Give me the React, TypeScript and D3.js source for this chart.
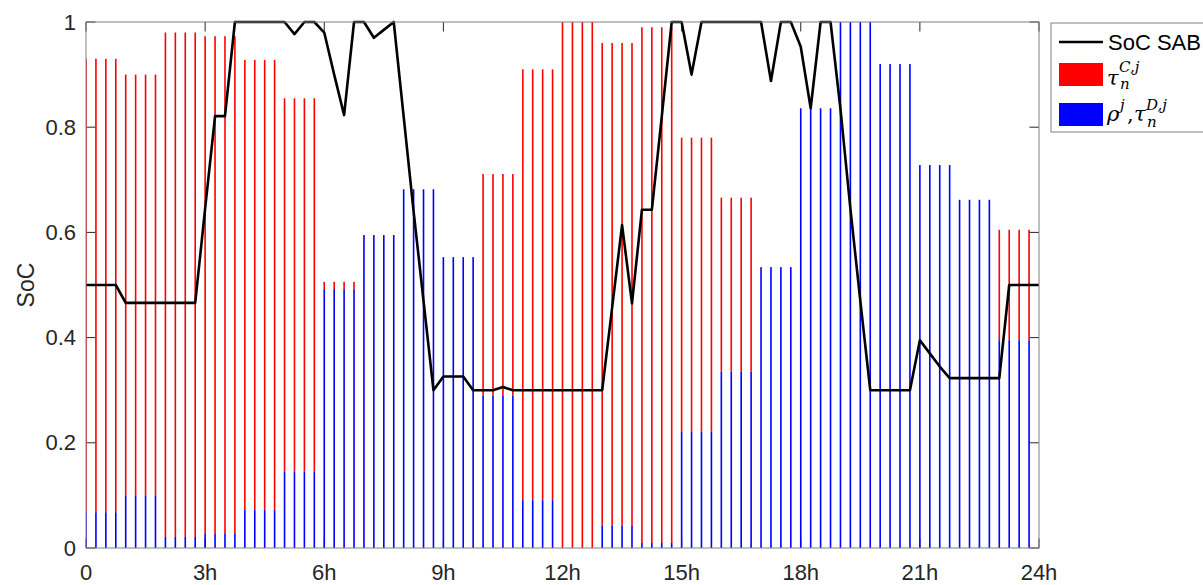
import React from 'react';
import * as d3 from 'd3';

// Axis ticks
const hourTicks = [0, 3, 6, 9, 12, 15, 18, 21, 24];
const hourTickLabels = ['0', '3h', '6h', '9h', '12h', '15h', '18h', '21h', '24h'];
const socTicks = [0, 0.2, 0.4, 0.6, 0.8, 1];
const socTickLabels = ['0', '0.2', '0.4', '0.6', '0.8', '1'];

// Hourly charge (tau^C) and discharge (rho, tau^D) levels; every hour holds four 15-min slots
const chargeTau = [
  0.93, 0.9, 0.98, 0.973, 0.928, 0.855, 0.506, 0.405, 0.318, 0.447, 0.711, 0.91,
  1.0, 0.96, 0.99, 0.78, 0.666, 0.466, 0.164, 0.0, 0.08, 0.272, 0.338, 0.605,
];
const dischargeRho = [
  0.068, 0.1, 0.021, 0.028, 0.072, 0.145, 0.492, 0.595, 0.682, 0.553, 0.29, 0.091,
  0.0, 0.042, 0.0095, 0.221, 0.335, 0.534, 0.836, 1.0, 0.92, 0.728, 0.662, 0.395,
];
const slotsPerHour = 4;

// State of charge of the SAB at every 15-min step from 0h to 24h
const socSAB = [
  0.5, 0.5, 0.5, 0.5, 0.466, 0.466, 0.466, 0.466, 0.466, 0.466, 0.466, 0.466,
  0.645, 0.821, 0.821, 1.0, 1.0, 1.0, 1.0, 1.0, 1.0, 0.977, 1.0, 1.0,
  0.98, 0.9, 0.823, 1.0, 1.0, 0.97, 0.985, 1.0, 0.82, 0.64, 0.47, 0.3,
  0.326, 0.326, 0.326, 0.3, 0.3, 0.3, 0.306, 0.3, 0.3, 0.3, 0.3, 0.3,
  0.3, 0.3, 0.3, 0.3, 0.3, 0.457, 0.614, 0.465, 0.643, 0.643, 0.82, 1.0,
  1.0, 0.9, 1.0, 1.0, 1.0, 1.0, 1.0, 1.0, 1.0, 0.888, 1.0, 1.0,
  0.953, 0.836, 1.0, 1.0, 0.835, 0.645, 0.47, 0.3, 0.3, 0.3, 0.3, 0.3,
  0.395, 0.37, 0.345, 0.323, 0.323, 0.323, 0.323, 0.323, 0.323, 0.5, 0.5, 0.5,
  0.5,
];

const W = 1203;
const H = 585;
const left = 86;
const right = 1039;
const top = 22;
const bottom = 548;
const tickLen = 9.5;
const font = '"Liberation Sans", Arial, Helvetica, sans-serif';
const mathFont = '"DejaVu Serif", "Liberation Serif", serif';

export default function App() {
  const x = d3.scaleLinear().domain([0, 24]).range([left, right]);
  const y = d3.scaleLinear().domain([0, 1]).range([bottom, top]);

  const slots = d3.range(24 * slotsPerHour).map((k) => {
    const hour = Math.floor(k / slotsPerHour);
    return { t: k / slotsPerHour, tau: chargeTau[hour], rho: dischargeRho[hour] };
  });

  const line = d3
    .line<number>()
    .x((_, i) => x(i / slotsPerHour))
    .y((d) => y(d));

  const barW = 1.6;

  return (
    <svg
      width={W}
      height={H}
      style={{ position: 'fixed', left: 0, top: 0, background: '#fff' }}
      fontFamily={font}
    >
      <defs>
        <clipPath id="plotArea">
          <rect x={left} y={top - 2} width={right - left} height={bottom - top + 2} />
        </clipPath>
      </defs>

      {/* ticks (drawn beneath the data) */}
      <g stroke="#262626" strokeWidth={1}>
        {socTicks.map((v) => (
          <g key={'yt' + v}>
            <line x1={left} x2={left + tickLen} y1={y(v)} y2={y(v)} />
            <line x1={right} x2={right - tickLen} y1={y(v)} y2={y(v)} />
          </g>
        ))}
        {hourTicks.map((v) => (
          <g key={'xt' + v}>
            <line x1={x(v)} x2={x(v)} y1={bottom} y2={bottom - tickLen} />
            <line x1={x(v)} x2={x(v)} y1={top} y2={top + tickLen} />
          </g>
        ))}
      </g>

      {/* discharge bars from zero, charge part visible above them */}
      <g clipPath="url(#plotArea)">
        {slots.map((s, i) =>
          s.tau > s.rho ? (
            <rect
              key={'c' + i}
              x={x(s.t) - barW / 2}
              width={barW}
              y={y(s.tau)}
              height={y(s.rho) - y(s.tau)}
              fill="#ff0000"
            />
          ) : null
        )}
        {slots.map((s, i) =>
          s.rho > 0 ? (
            <rect
              key={'d' + i}
              x={x(s.t) - barW / 2}
              width={barW}
              y={y(s.rho)}
              height={y(0) - y(s.rho)}
              fill="#0000ff"
            />
          ) : null
        )}
      </g>

      {/* SoC line */}
      <path
        d={line(socSAB) || ''}
        fill="none"
        stroke="#000"
        strokeWidth={2.6}
        strokeLinejoin="round"
      />

      {/* axes box */}
      <rect
        x={left}
        y={top}
        width={right - left}
        height={bottom - top}
        fill="none"
        stroke="#808080"
        strokeWidth={1}
      />

      {/* tick labels */}
      <g fontSize={22} fill="#262626">
        {socTicks.map((v, i) => (
          <text key={'yl' + v} x={left - 10} y={y(v) + 7.5} textAnchor="end">
            {socTickLabels[i]}
          </text>
        ))}
        {hourTicks.map((v, i) => (
          <text key={'xl' + v} x={x(v)} y={580} textAnchor="middle">
            {hourTickLabels[i]}
          </text>
        ))}
      </g>
      <text
        transform={`translate(34, ${(top + bottom) / 2}) rotate(-90)`}
        textAnchor="middle"
        fontSize={23}
        fill="#262626"
      >
        SoC
      </text>

      {/* legend */}
      <g>
        <rect x={1051} y={23} width={170} height={109} fill="#fff" stroke="#808080" strokeWidth={1} />
        <line x1={1059} x2={1103} y1={42} y2={42} stroke="#000" strokeWidth={2.6} />
        <text x={1108} y={50} fontSize={22} fill="#000">
          SoC SAB
        </text>
        <rect x={1059} y={63} width={44} height={23} fill="#ff0000" />
        <text fontFamily={mathFont} fontStyle="italic" fill="#000">
          <tspan x={1107} y={85} fontSize={21}>τ</tspan>
          <tspan x={1119} y={72} fontSize={15}>C,j</tspan>
          <tspan x={1120} y={89} fontSize={15}>n</tspan>
        </text>
        <rect x={1059} y={103} width={44} height={23} fill="#0000ff" />
        <text fontFamily={mathFont} fontStyle="italic" fill="#000">
          <tspan x={1107} y={121} fontSize={21}>ρ</tspan>
          <tspan x={1120} y={110} fontSize={15}>j</tspan>
          <tspan x={1127} y={121} fontSize={21} fontStyle="normal">,</tspan>
          <tspan x={1134} y={121} fontSize={21}>τ</tspan>
          <tspan x={1146} y={110} fontSize={15}>D,j</tspan>
          <tspan x={1147} y={127} fontSize={15}>n</tspan>
        </text>
      </g>
    </svg>
  );
}
